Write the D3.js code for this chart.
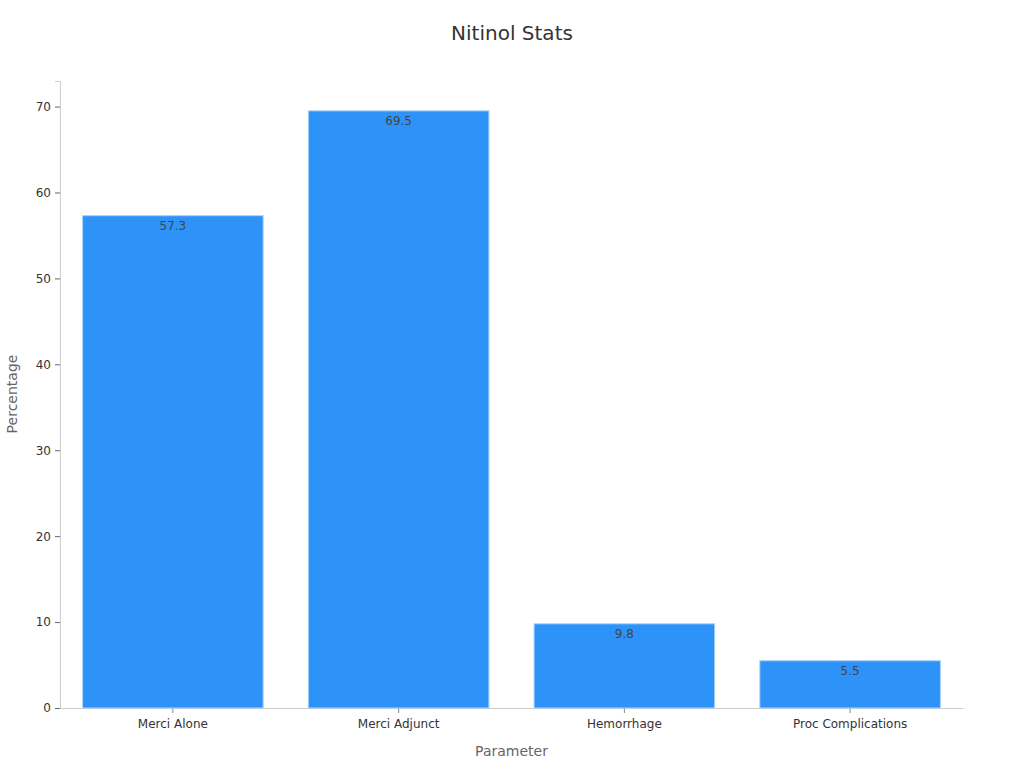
<!DOCTYPE html>
<html>
<head>
<meta charset="utf-8">
<script src="https://cdn.jsdelivr.net/npm/d3@7"></script>
<style>
  body { margin: 0; background: #fff; }
  text { font-family: "DejaVu Sans", sans-serif; }
</style>
</head>
<body>
<svg width="1024" height="768"></svg>
<script>
// chart data
const categories = ["Merci Alone", "Merci Adjunct", "Hemorrhage", "Proc Complications"];
const values = [57.3, 69.5, 9.8, 5.5];
const yTicks = [0, 10, 20, 30, 40, 50, 60, 70];

const svg = d3.select("svg");
const margin = {top: 81, right: 61, bottom: 60, left: 60};
const width = 1024 - margin.left - margin.right,
    height = 768 - margin.top - margin.bottom;

const g = svg.append("g")
    .attr("transform", `translate(${margin.left},${margin.top})`);

const x = d3.scaleBand()
    .domain(categories)
    .range([0, width])
    .paddingInner(0.2)
    .paddingOuter(0.1);

const y = d3.scaleLinear()
    .domain([0, d3.max(values) * 1.05])
    .range([height, 0]);

// title
svg.append("text")
    .attr("x", 512)
    .attr("y", 40)
    .attr("text-anchor", "middle")
    .attr("font-size", 20)
    .attr("fill", "#333")
    .text("Nitinol Stats");

// y axis
const yAxis = g.append("g")
    .call(d3.axisLeft(y).tickValues(yTicks).tickSize(5).tickPadding(4));
yAxis.select(".domain").attr("stroke", "#ccc");
yAxis.selectAll(".tick line").attr("stroke", "#666");
yAxis.selectAll(".tick text").attr("font-size", 12).attr("fill", "#333")
    .style("font-family", "DejaVu Sans, sans-serif");

// x axis
const xAxis = g.append("g")
    .attr("transform", `translate(0,${height})`)
    .call(d3.axisBottom(x).tickSize(5).tickPadding(6).tickSizeOuter(0));
xAxis.select(".domain").attr("stroke", "#ccc");
xAxis.selectAll(".tick line").attr("stroke", "#888");
xAxis.selectAll(".tick text").attr("font-size", 12).attr("fill", "#333")
    .style("font-family", "DejaVu Sans, sans-serif");

// bars
g.append("g")
    .selectAll("rect")
    .data(values)
    .join("rect")
    .attr("x", (d, i) => x(categories[i]))
    .attr("y", d => y(d))
    .attr("width", x.bandwidth())
    .attr("height", d => height - y(d))
    .attr("fill", "#2e93f8")
    .attr("stroke", "#a9d3fb")
    .attr("stroke-width", 1);

// value labels
g.append("g")
    .selectAll("text")
    .data(values)
    .join("text")
    .attr("x", (d, i) => x(categories[i]) + x.bandwidth() / 2)
    .attr("y", d => y(d) + 14)
    .attr("text-anchor", "middle")
    .attr("font-size", 12)
    .attr("fill", "#444")
    .text(d => d);

// axis titles
svg.append("text")
    .attr("transform", "translate(17,394) rotate(-90)")
    .attr("text-anchor", "middle")
    .attr("font-size", 14)
    .attr("fill", "#666")
    .text("Percentage");

svg.append("text")
    .attr("x", margin.left + width / 2)
    .attr("y", 756)
    .attr("text-anchor", "middle")
    .attr("font-size", 14)
    .attr("fill", "#666")
    .text("Parameter");
</script>
</body>
</html>
